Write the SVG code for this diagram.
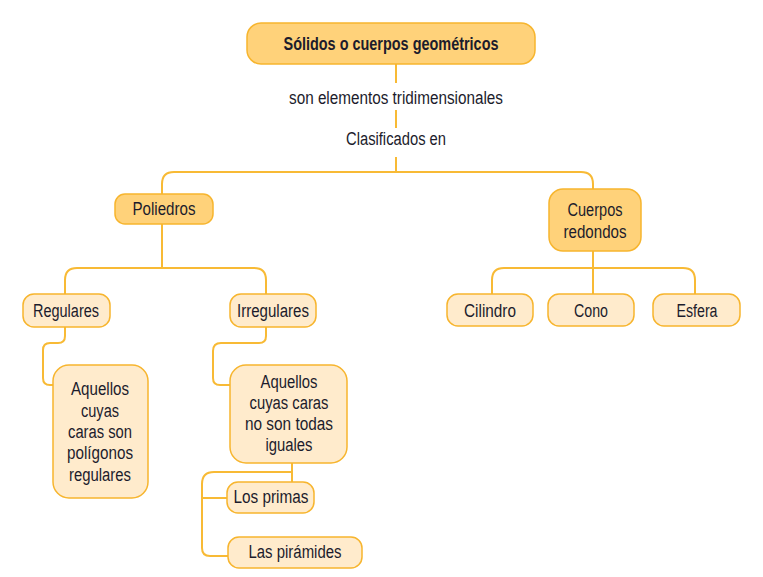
<svg xmlns="http://www.w3.org/2000/svg" width="763" height="577" viewBox="0 0 763 577">
<style>
.t{font-family:"Liberation Sans","Arial",sans-serif;font-size:18px;fill:#1c1c2c;text-anchor:middle}
.b{font-weight:bold}
.dk{fill:#FFD27A;stroke:#F7B52E;stroke-width:1.5}
.lt{fill:#FFEBCC;stroke:#F7B52E;stroke-width:1.5}
.c{fill:none;stroke:#F8BA35;stroke-width:2}
</style>
<rect width="763" height="577" fill="#fff"/>
<g id="connectors">
<path class="c" d="M396,64 V83 M396,110 V128 M396,157 V172"/>
<path class="c" d="M162,194 V184 Q162,172 174,172 H581 Q593,172 593,184 V189"/>
<path class="c" d="M162,224 V268 M65,294 V280 Q65,268 77,268 H254 Q266,268 266,280 V294"/>
<path class="c" d="M65,327 V336 Q65,343 58,343 H50 Q43,343 43,350 V378 Q43,385 50,385 H53"/>
<path class="c" d="M266,327 V336 Q266,343 259,343 H221 Q213,343 213,351 V378 Q213,385 220,385 H230"/>
<path class="c" d="M292,463 V482 M292,472 H214 Q202,472 202,484 V548 Q202,556 210,556 H228 M202,498 H227"/>
<path class="c" d="M593,251 V294 M492,294 V280 Q492,268 504,268 H683 Q695,268 695,280 V294"/>
</g>
<g id="lbl1"><text class="t" x="396" y="104" textLength="214" lengthAdjust="spacingAndGlyphs">son elementos tridimensionales</text></g>
<g id="lbl2"><text class="t" x="396" y="145" textLength="100" lengthAdjust="spacingAndGlyphs">Clasificados en</text></g>
<g id="root"><rect class="dk" x="247" y="23" width="288" height="41" rx="14"/><text class="t b" x="391" y="50" textLength="215" lengthAdjust="spacingAndGlyphs">Sólidos o cuerpos geométricos</text></g>
<g id="poliedros"><rect class="dk" x="115" y="194" width="98" height="30" rx="10"/><text class="t" x="164" y="215" textLength="63" lengthAdjust="spacingAndGlyphs">Poliedros</text></g>
<g id="cuerpos"><rect class="dk" x="549" y="189" width="92" height="62" rx="14"/><text class="t" x="595" y="216" textLength="55" lengthAdjust="spacingAndGlyphs">Cuerpos</text><text class="t" x="595" y="238" textLength="63" lengthAdjust="spacingAndGlyphs">redondos</text></g>
<g id="regulares"><rect class="lt" x="23" y="294" width="87" height="33" rx="11"/><text class="t" x="66" y="317" textLength="66" lengthAdjust="spacingAndGlyphs">Regulares</text></g>
<g id="irregulares"><rect class="lt" x="230" y="294" width="86" height="33" rx="11"/><text class="t" x="273" y="317" textLength="72" lengthAdjust="spacingAndGlyphs">Irregulares</text></g>
<g id="aquellos1"><rect class="lt" x="53" y="365" width="95" height="133" rx="16"/>
<text class="t" x="100" y="395" textLength="58" lengthAdjust="spacingAndGlyphs">Aquellos</text><text class="t" x="100" y="417" textLength="38" lengthAdjust="spacingAndGlyphs">cuyas</text><text class="t" x="100" y="438" textLength="64" lengthAdjust="spacingAndGlyphs">caras son</text><text class="t" x="100" y="459" textLength="66" lengthAdjust="spacingAndGlyphs">polígonos</text><text class="t" x="100" y="481" textLength="62" lengthAdjust="spacingAndGlyphs">regulares</text></g>
<g id="aquellos2"><rect class="lt" x="230" y="365" width="117" height="98" rx="16"/>
<text class="t" x="289" y="388" textLength="57" lengthAdjust="spacingAndGlyphs">Aquellos</text><text class="t" x="289" y="409" textLength="79" lengthAdjust="spacingAndGlyphs">cuyas caras</text><text class="t" x="289" y="430" textLength="88" lengthAdjust="spacingAndGlyphs">no son todas</text><text class="t" x="289" y="451" textLength="47" lengthAdjust="spacingAndGlyphs">iguales</text></g>
<g id="primas"><rect class="lt" x="227" y="482" width="87" height="31" rx="11"/><text class="t" x="271" y="503" textLength="75" lengthAdjust="spacingAndGlyphs">Los primas</text></g>
<g id="piramides"><rect class="lt" x="228" y="537" width="134" height="31" rx="11"/><text class="t" x="295" y="558" textLength="93" lengthAdjust="spacingAndGlyphs">Las pirámides</text></g>
<g id="cilindro"><rect class="lt" x="447" y="294" width="86" height="32" rx="11"/><text class="t" x="490" y="317" textLength="52" lengthAdjust="spacingAndGlyphs">Cilindro</text></g>
<g id="cono"><rect class="lt" x="548" y="294" width="86" height="32" rx="11"/><text class="t" x="591" y="317" textLength="34" lengthAdjust="spacingAndGlyphs">Cono</text></g>
<g id="esfera"><rect class="lt" x="653" y="294" width="87" height="32" rx="11"/><text class="t" x="697" y="317" textLength="41" lengthAdjust="spacingAndGlyphs">Esfera</text></g>
</svg>
